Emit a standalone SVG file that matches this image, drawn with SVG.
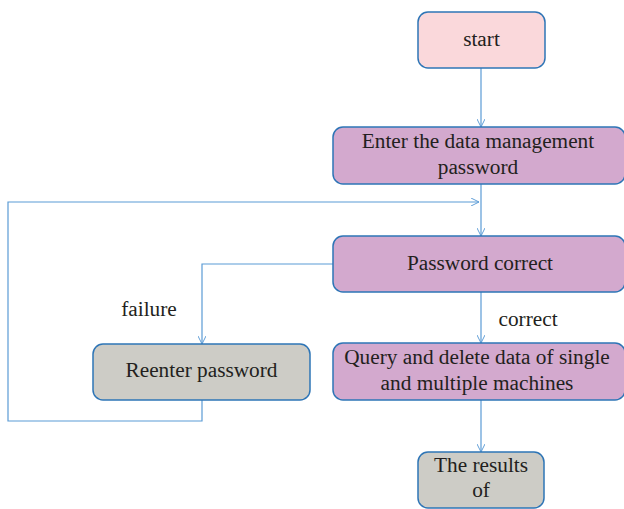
<svg xmlns="http://www.w3.org/2000/svg" width="624" height="509" viewBox="0 0 624 509">
<defs>
<style>
.box{stroke:#2E75B6;stroke-width:1.5}
.pink{fill:#FAD8DB}
.purple{fill:#D3A9CE}
.gray{fill:#CDCCC6}
text{font-family:"Liberation Serif",serif;font-size:21.3px;fill:#231F20;text-anchor:middle}
.conn{fill:none;stroke:#5B9BD5;stroke-width:1.2}
</style>
<marker id="arr" viewBox="0 0 10 10" refX="10" refY="5" markerWidth="8" markerHeight="8" markerUnits="userSpaceOnUse" orient="auto">
<path d="M0,0 L10,5 L0,10" fill="none" stroke="#5B9BD5" stroke-width="1.2"/>
</marker>
</defs>
<rect width="624" height="509" fill="#fff"/>
<g id="connectors">
<path class="conn" d="M481,68 V127" marker-end="url(#arr)"/>
<path class="conn" d="M481,184 V236" marker-end="url(#arr)"/>
<path class="conn" d="M202,400 V421 H8 V202 H479" marker-end="url(#arr)"/>
<path class="conn" d="M333,264 H202 V344" marker-end="url(#arr)"/>
<path class="conn" d="M481,292 V343" marker-end="url(#arr)"/>
<path class="conn" d="M481,400 V452" marker-end="url(#arr)"/>
<text x="149" y="316">failure</text>
<text x="528" y="326">correct</text>
</g>
<g id="start">
<rect class="box pink" x="418" y="12" width="127" height="56" rx="10"/>
<text x="481.5" y="46">start</text>
</g>
<g id="enter">
<rect class="box purple" x="333" y="127" width="292" height="57" rx="10"/>
<text x="478" y="148">Enter the data management</text>
<text x="478" y="174">password</text>
</g>
<g id="check">
<rect class="box purple" x="333" y="236" width="292" height="56" rx="10"/>
<text x="480" y="270">Password correct</text>
</g>
<g id="reenter">
<rect class="box gray" x="93" y="344" width="217" height="56" rx="10"/>
<text x="201.5" y="377">Reenter password</text>
</g>
<g id="query">
<rect class="box purple" x="333" y="343" width="292" height="57" rx="10"/>
<text x="477" y="364">Query and delete data of single</text>
<text x="477" y="390">and multiple machines</text>
</g>
<g id="results">
<rect class="box gray" x="418" y="452" width="126" height="56" rx="10"/>
<text x="481" y="472">The results</text>
<text x="481" y="497">of</text>
</g>
</svg>
